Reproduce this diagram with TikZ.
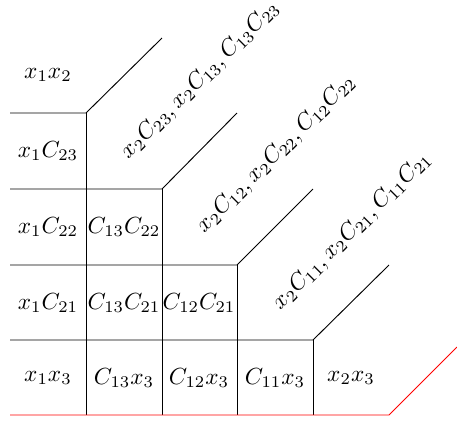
\documentclass[tikz,border=0pt]{standalone}
\begin{document}
\begin{tikzpicture}[x=0.429pt,y=-0.429pt,
  cell/.style={inner sep=0pt},
  diag/.style={inner sep=0pt,rotate=45}]
\useasboundingbox (0,0) rectangle (457,423);
% grid corners
\coordinate (a1) at (10,113); \coordinate (b1) at (86,113); \coordinate (e1) at (162,38);
\coordinate (a2) at (10,189); \coordinate (b2) at (162,189); \coordinate (e2) at (237,113);
\coordinate (a3) at (10,265); \coordinate (b3) at (237,265); \coordinate (e3) at (313,189);
\coordinate (a4) at (10,340); \coordinate (b4) at (313,340); \coordinate (e4) at (389,265);
\coordinate (f1) at (86,415); \coordinate (f2) at (162,415); \coordinate (f3) at (237,415); \coordinate (f4) at (313,415);
\coordinate (r0) at (10,415); \coordinate (r1) at (389,415); \coordinate (r2) at (457,347);
\draw (a1) -- (b1) -- (e1);
\draw (b1) -- (f1);
\draw (a2) -- (b2) -- (e2);
\draw (b2) -- (f2);
\draw (a3) -- (b3) -- (e3);
\draw (b3) -- (f3);
\draw (a4) -- (b4) -- (e4);
\draw (b4) -- (f4);
\draw[red] (r0) -- (r1) -- (r2);
% cell labels
\node[cell] (n11) at (48,75) {$x_1x_2$};
\node[cell] (n21) at (48,151) {$x_1C_{23}$};
\node[cell] (n31) at (48,227) {$x_1C_{22}$};
\node[cell] (n32) at (124,227) {$C_{13}C_{22}$};
\node[cell] (n41) at (48,303) {$x_1C_{21}$};
\node[cell] (n42) at (124,303) {$C_{13}C_{21}$};
\node[cell] (n43) at (199,303) {$C_{12}C_{21}$};
\node[cell] (n51) at (48,378) {$x_1x_3$};
\node[cell] (n52) at (124,378) {$C_{13}x_3$};
\node[cell] (n53) at (199,378) {$C_{12}x_3$};
\node[cell] (n54) at (275,378) {$C_{11}x_3$};
\node[cell] (n55) at (351,378) {$x_2x_3$};
% diagonal labels
\node[diag] (d1) at (200,80) {$x_2C_{23}, x_2C_{13}, C_{13}C_{23}$};
\node[diag] (d2) at (276,154) {$x_2C_{12}, x_2C_{22}, C_{12}C_{22}$};
\node[diag] (d3) at (352,231) {$x_2C_{11}, x_2C_{21}, C_{11}C_{21}$};
\end{tikzpicture}
\end{document}
